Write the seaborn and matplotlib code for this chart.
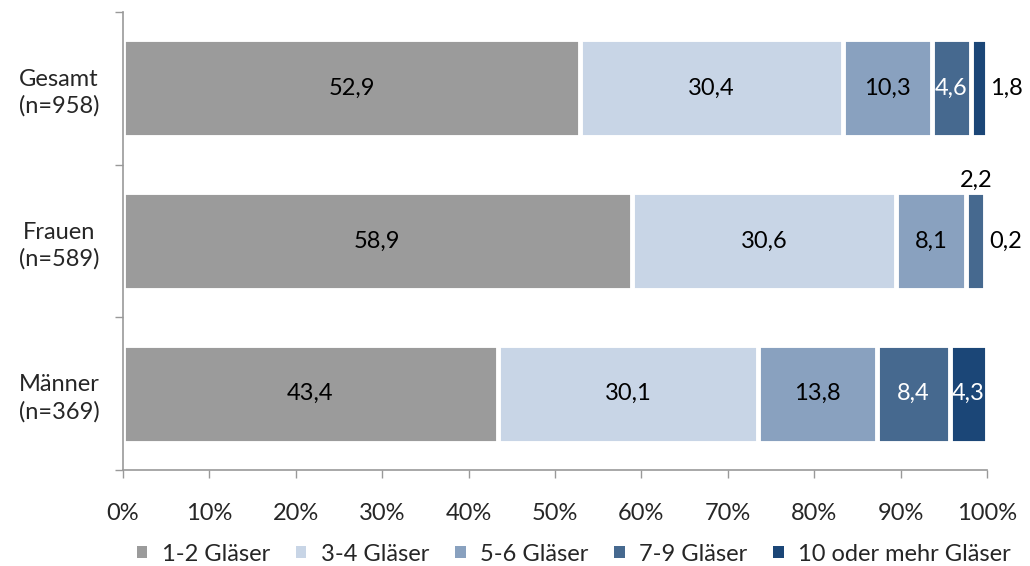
import numpy as np
import pandas as pd
import matplotlib.pyplot as plt
import seaborn as sns
from matplotlib.patches import Patch

# data
groups = ["Gesamt\n(n=958)", "Frauen\n(n=589)", "Männer\n(n=369)"]
series = ["1-2 Gläser", "3-4 Gläser", "5-6 Gläser", "7-9 Gläser", "10 oder mehr Gläser"]
glas_12 = [52.9, 58.9, 43.4]
glas_34 = [30.4, 30.6, 30.1]
glas_56 = [10.3, 8.1, 13.8]
glas_79 = [4.6, 2.2, 8.4]
glas_10 = [1.8, 0.2, 4.3]
colors = ["#9b9b9b", "#c8d5e6", "#89a1bf", "#46698f", "#1b4677"]

vals = np.array([glas_12, glas_34, glas_56, glas_79, glas_10])
cums = vals.cumsum(axis=0)

sns.set_theme(style="white")
plt.rcParams["font.family"] = ["Lato", "DejaVu Sans"]
fs = 17

fig = plt.figure(figsize=(10.3, 5.66), dpi=100)
ax = fig.add_axes([0.1194, 0.1696, 0.8388, 0.8094])

# stacked bars: draw cumulative totals from the right-most segment back
for i in range(len(series) - 1, -1, -1):
    df = pd.DataFrame({"group": groups, "cum": cums[i]})
    sns.barplot(data=df, x="cum", y="group", color=colors[i], width=0.64,
                edgecolor="white", linewidth=3.5, saturation=1, ax=ax)

# value labels
for g in range(len(groups)):
    for i in range(len(series)):
        v = vals[i, g]
        txt = f"{v:.1f}".replace(".", ",")
        left = cums[i, g] - v
        mid = left + v / 2
        if v < 2.5 and i == len(series) - 1:
            ax.annotate(txt, (100, g), xytext=(2, 0), textcoords="offset points",
                        ha="left", va="center", fontsize=fs, color="black")
        elif v < 2.5:
            ax.annotate(txt, (mid, g - 0.32), xytext=(0, 1), textcoords="offset points",
                        ha="center", va="bottom", fontsize=fs, color="black")
        else:
            ax.text(mid, g, txt, ha="center", va="center", fontsize=fs,
                    color="white" if i >= 3 else "black")

ax.set_xlim(0, 100)
ax.set_ylim(2.5, -0.5)
ax.set_xticks(np.arange(0, 101, 10))
ax.set_xticklabels([f"{t}%" for t in range(0, 101, 10)], fontsize=fs)
ax.set_yticks([-0.5, 0.5, 1.5, 2.5])
ax.set_yticklabels([])
ax.set_yticks([0, 1, 2], minor=True)
ax.set_yticklabels(groups, minor=True, fontsize=fs, multialignment="center",
                   linespacing=1.3)
ax.tick_params(axis="y", which="minor", length=0, pad=17)
ax.tick_params(axis="both", which="major", direction="out", length=6,
               width=1, color="#999999", bottom=True, left=True)
ax.tick_params(axis="x", pad=18)
ax.set_xlabel("")
ax.set_ylabel("")
for s in ["top", "right"]:
    ax.spines[s].set_visible(False)
for s in ["left", "bottom"]:
    ax.spines[s].set_color("#999999")
    ax.spines[s].set_linewidth(1.2)

handles = [Patch(facecolor=c, edgecolor="none") for c in colors]
fig.legend(handles, series, loc="lower center", bbox_to_anchor=(0.557, -0.035), ncol=5,
           frameon=False, fontsize=fs, handlelength=0.45, handleheight=0.45,
           handletextpad=0.6, columnspacing=1.1)

fig.savefig("out.png", dpi=100)
